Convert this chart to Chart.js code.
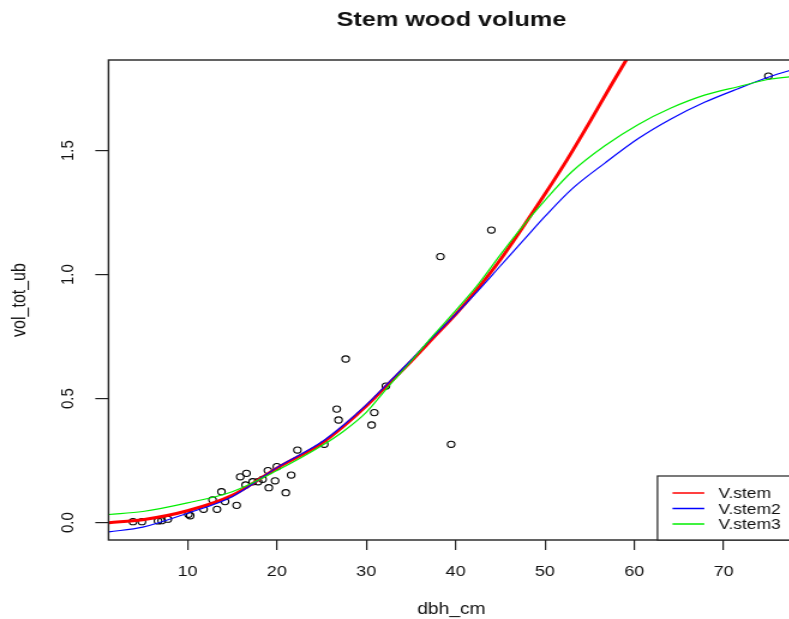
<!DOCTYPE html>
<html>
<head>
<meta charset="utf-8">
<script src="https://cdn.jsdelivr.net/npm/chart.js@4.4.1/dist/chart.umd.min.js"></script>
<style>
  html, body { margin: 0; padding: 0; overflow: hidden; background: #fff; }
  /* the reference is horizontally stretched, so the chart is too */
  #wrap { width: 667px; height: 619px; transform: scaleX(1.2); transform-origin: 0 0; }
</style>
</head>
<body>
<div id="wrap"><canvas id="chart" width="667" height="619"></canvas></div>
<script>
// observed trees
const dbh = [3.9, 4.9, 6.7, 7.1, 7.8, 10.1, 10.3, 11.8, 13.3, 12.8, 13.8, 14.2, 15.5, 15.9, 16.6, 16.5,
             17.3, 17.9, 18.4, 19.0, 20.0, 19.1, 19.8, 21.0, 21.6, 22.3, 25.3, 26.7, 26.9, 27.7,
             30.9, 30.6, 32.2, 38.3, 39.5, 44.0, 75.0];
const vol = [0.004, 0.004, 0.007, 0.008, 0.014, 0.034, 0.028, 0.054, 0.054, 0.092, 0.125, 0.085, 0.070, 0.185, 0.199, 0.152,
             0.165, 0.165, 0.175, 0.210, 0.226, 0.141, 0.169, 0.121, 0.192, 0.293, 0.316, 0.458, 0.414, 0.660,
             0.444, 0.394, 0.551, 1.073, 0.316, 1.180, 1.801];

// fitted curves
const stemX  = [1.2, 5, 10, 15, 20, 25, 27.5, 30, 32.5, 35, 37.5, 40, 42.5, 45, 47.5, 50, 52.5, 55, 57.5, 60];
const stemY  = [0.000, 0.012, 0.048, 0.110, 0.220, 0.320, 0.390, 0.470, 0.560, 0.650, 0.745, 0.840, 0.945, 1.060, 1.190, 1.325, 1.465, 1.615, 1.770, 1.920];
const stem2X = [1.2, 5, 10, 15, 20, 25, 27.5, 30, 32.5, 35, 37.5, 40, 42.5, 45, 47.5, 50, 53, 56.7, 60.4, 64.1, 67.85, 71.6, 75.3, 78];
const stem2Y = [-0.037, -0.018, 0.038, 0.105, 0.222, 0.325, 0.395, 0.475, 0.565, 0.655, 0.750, 0.840, 0.935, 1.035, 1.135, 1.235, 1.345, 1.450, 1.548, 1.628, 1.695, 1.750, 1.800, 1.830];
const stem3X = [1.2, 5, 10, 15, 20, 25, 27.5, 30, 32.5, 35, 37.5, 40, 42.5, 45, 47.5, 50, 53, 56.7, 60.4, 64.1, 67.85, 71.6, 75.3, 78];
const stem3Y = [0.033, 0.045, 0.080, 0.125, 0.210, 0.310, 0.370, 0.445, 0.550, 0.650, 0.755, 0.855, 0.960, 1.080, 1.195, 1.300, 1.415, 1.520, 1.605, 1.672, 1.724, 1.758, 1.789, 1.800];

const xTicks = [10, 20, 30, 40, 50, 60, 70];
const yTicks = [0, 0.5, 1.0, 1.5];
const titleText = 'Stem wood volume';

const pairs = (xs, ys) => xs.map((x, i) => ({x: x, y: ys[i]}));
const FONT = "'Liberation Sans', Arial, sans-serif";
Chart.defaults.font.family = FONT;
Chart.defaults.color = '#111';

const rPlot = {
  id: 'rPlot',
  afterDraw(chart) {
    const {ctx, chartArea: a} = chart;
    ctx.save();
    ctx.strokeStyle = '#222';
    ctx.lineWidth = 1.4;
    ctx.strokeRect(a.left, a.top, a.right - a.left, a.bottom - a.top);

    ctx.fillStyle = '#111';
    ctx.font = 'bold 21px ' + FONT;
    ctx.textAlign = 'center';
    ctx.textBaseline = 'middle';
    ctx.fillText(titleText, (a.left + a.right) / 2, 20);

    // legend box, bottom right
    const lx = a.right - 114, ly = a.bottom - 64;
    ctx.fillStyle = '#fff';
    ctx.fillRect(lx, ly, a.right - lx, a.bottom - ly);
    ctx.strokeStyle = '#222';
    ctx.lineWidth = 1.2;
    ctx.strokeRect(lx, ly, a.right - lx + 10, a.bottom - ly);
    ctx.font = '14.5px ' + FONT;
    ctx.textAlign = 'left';
    const rows = [17, 32.5, 48];
    chart.data.datasets.slice(1).forEach((ds, i) => {
      const y = ly + rows[i];
      ctx.strokeStyle = ds.borderColor;
      ctx.lineWidth = 1.5;
      ctx.beginPath();
      ctx.moveTo(lx + 12.5, y);
      ctx.lineTo(lx + 39, y);
      ctx.stroke();
      ctx.fillStyle = '#111';
      ctx.fillText(ds.label, lx + 50.8, y + 1);
    });
    ctx.restore();
  }
};

new Chart(document.getElementById('chart'), {
  type: 'scatter',
  data: {
    datasets: [
      { label: 'vol_tot_ub', data: pairs(dbh, vol), order: 4,
        pointRadius: 3.1, pointBorderWidth: 1.1, borderColor: '#000', backgroundColor: 'rgba(0,0,0,0)' },
      { label: 'V.stem', data: pairs(stemX, stemY), order: 3, showLine: true,
        borderColor: '#ff0000', borderWidth: 3, pointRadius: 0, cubicInterpolationMode: 'monotone' },
      { label: 'V.stem2', data: pairs(stem2X, stem2Y), order: 2, showLine: true,
        borderColor: '#0000ff', borderWidth: 1.2, pointRadius: 0, cubicInterpolationMode: 'monotone' },
      { label: 'V.stem3', data: pairs(stem3X, stem3Y), order: 1, showLine: true,
        borderColor: '#00ee00', borderWidth: 1.2, pointRadius: 0, cubicInterpolationMode: 'monotone' }
    ]
  },
  options: {
    responsive: false,
    animation: false,
    devicePixelRatio: 1,
    layout: { padding: { top: 60, right: 2.8, left: 0, bottom: 0 } },
    plugins: { legend: { display: false }, tooltip: { enabled: false } },
    scales: {
      x: {
        min: 1.16, max: 77.9,
        afterBuildTicks: s => { s.ticks = xTicks.map(v => ({value: v})); },
        afterFit: s => { s.height = 79; },
        grid: { drawOnChartArea: false, drawTicks: true, tickLength: 10, color: '#222', lineWidth: 1.2 },
        border: { display: false },
        ticks: { padding: 13, font: { size: 15 }, color: '#111', maxRotation: 0 },
        title: { display: true, text: 'dbh_cm', font: { size: 16 }, color: '#111', padding: { top: 0, bottom: 0 } }
      },
      y: {
        min: -0.0698, max: 1.8657,
        afterBuildTicks: s => { s.ticks = yTicks.map(v => ({value: v})); },
        afterFit: s => { s.width = 90.4; },
        grid: { drawOnChartArea: false, drawTicks: true, tickLength: 11, color: '#222', lineWidth: 1.2 },
        border: { display: false },
        ticks: { padding: 12.3, font: { size: 15 }, color: '#111', minRotation: 90, maxRotation: 90,
                 crossAlign: 'center', callback: v => v.toFixed(1) },
        title: { display: true, text: 'vol_tot_ub', font: { size: 16 }, color: '#111', padding: { top: 7.1, bottom: 0 } }
      }
    }
  },
  plugins: [rPlot]
});
</script>
</body>
</html>
